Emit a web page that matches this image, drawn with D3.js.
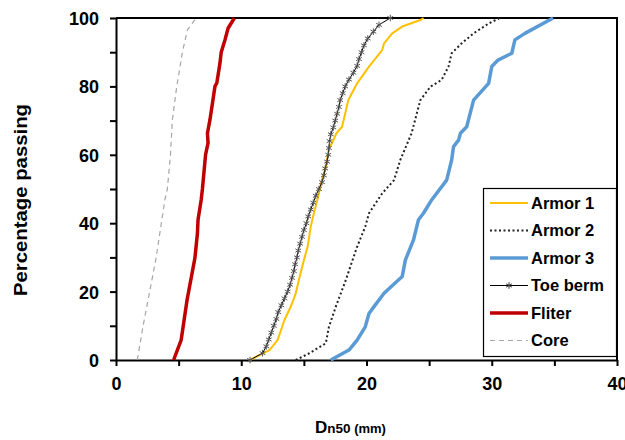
<!DOCTYPE html>
<html>
<head>
<meta charset="utf-8">
<script src="https://cdn.jsdelivr.net/npm/d3@7"></script>
<style>
  body { margin: 0; background: #fff; }
  text { font-family: "Liberation Sans", Arial, sans-serif; font-weight: bold; }
</style>
</head>
<body>
<svg id="chart"></svg>
<script>
// Grain size curves: [Dn50 (mm), percentage passing]
const armor1 = [[10.7,0],[12.25,2.9],[12.9,5.8],[13.45,11.7],[14.0,16],[14.35,19.5],[14.6,23.4],[15.0,29.2],[15.3,33.1],[15.55,39],[15.8,42.9],[16.2,48.7],[16.4,52],[16.75,56.5],[17.0,62],[17.25,63.4],[17.6,66.3],[18.05,68.2],[18.55,76],[19.25,80.9],[20.2,85.8],[21.25,90.6],[21.4,92.6],[22.05,95.5],[22.85,97.5],[24.3,99.4],[24.55,100]];
const armor2 = [[14.35,0],[15.4,1.9],[16.75,4.9],[17.0,9.7],[17.55,15.6],[18.35,23.4],[19.25,33.1],[19.9,39],[20.2,42.9],[21.25,48.7],[22.2,52.6],[22.7,58.5],[23.6,66.3],[24.3,76],[25.1,79.9],[26.0,81.9],[26.55,85.8],[26.8,89.7],[27.6,92.6],[28.55,95.5],[29.75,98.4],[30.65,100]];
const armor3 = [[17.15,0],[18.6,2.9],[19.25,5.8],[19.9,9.7],[20.2,13.6],[20.6,15.6],[21.4,19.5],[22.85,24.4],[23.1,29.2],[23.75,35.1],[24.15,41],[24.55,42.9],[25.2,46.8],[26.4,52.6],[26.8,58.5],[26.95,62.4],[27.35,64.3],[27.5,66.3],[28.0,68.2],[28.55,76],[29.75,80.9],[30.0,85.8],[30.5,87.7],[31.6,89.7],[31.85,93.6],[32.65,95.5],[34.9,100]];
const toeBerm = [[10.7,0],[11.7,2],[12.0,4],[12.2,6],[12.4,8],[12.6,10],[12.8,12],[12.95,14],[13.2,16],[13.45,18],[13.7,20],[13.9,22],[14.05,24],[14.2,26],[14.3,28],[14.45,30],[14.55,32],[14.7,34],[14.85,36],[15.0,38],[15.2,40],[15.35,42],[15.55,44],[15.75,46],[15.95,48],[16.2,50],[16.45,52],[16.6,54],[16.7,56],[16.85,58],[16.95,60],[17.0,62],[17.05,64],[17.15,66],[17.35,68],[17.5,70],[17.65,72],[17.8,74],[17.9,76],[18.1,78],[18.3,80],[18.6,82],[18.95,84],[19.25,86],[19.4,88],[19.6,90],[19.8,92],[20.1,94],[20.55,96],[21.0,98],[21.9,100]];
const filter = [[4.6,0],[5.2,5.8],[5.67,17.5],[6.3,29.8],[6.5,37],[6.55,41],[6.8,46.8],[6.9,50],[7.15,60],[7.35,63.5],[7.3,66.3],[7.5,70.2],[7.9,80],[8.05,81],[8.3,86.8],[8.4,90],[8.7,93.6],[8.95,97],[9.45,100]];
const core = [[1.7,0],[2.15,9.7],[3.2,29.8],[3.9,46.8],[4.1,50],[4.35,60],[4.5,70.2],[4.85,80],[5.3,90],[5.7,96.5],[6.4,100]];

const seriesNames = ["Armor 1", "Armor 2", "Armor 3", "Toe berm", "Fliter", "Core"];
const xTicks = [0, 5, 10, 15, 20, 25, 30, 35, 40];
const yTicks = [0, 10, 20, 30, 40, 50, 60, 70, 80, 90, 100];

const width = 625, height = 440;
const mLeft = 116, mRight = 617, mTop = 18, mBottom = 360;

const series = [
  { name: seriesNames[0], data: armor1, color: "#FFC000", w: 2, dash: null },
  { name: seriesNames[1], data: armor2, color: "#222", w: 2, dash: "2,2.5" },
  { name: seriesNames[2], data: armor3, color: "#5B9BD5", w: 3.5, dash: null },
  { name: seriesNames[3], data: toeBerm, color: "#000", w: 1, dash: null, marker: true },
  { name: seriesNames[4], data: filter, color: "#C00000", w: 3.5, dash: null },
  { name: seriesNames[5], data: core, color: "#A6A6A6", w: 1.2, dash: "5,4" }
];

const svg = d3.select("#chart").attr("width", width).attr("height", height);

const x = d3.scaleLinear().domain([0, 40]).range([mLeft, mRight]);
const y = d3.scaleLinear().domain([0, 100]).range([mBottom, mTop]);

// Frame (top and right)
svg.append("path")
  .attr("d", `M${mLeft},${mTop}H${mRight}V${mBottom}`)
  .attr("fill", "none").attr("stroke", "#000").attr("stroke-width", 2);

// Axes
const xAxis = svg.append("g")
  .attr("transform", `translate(0,${mBottom})`)
  .call(d3.axisBottom(x).tickValues(xTicks).tickSize(6).tickSizeOuter(0)
    .tickFormat(d => d % 10 === 0 ? d : ""));
const yAxis = svg.append("g")
  .attr("transform", `translate(${mLeft},0)`)
  .call(d3.axisLeft(y).tickValues(yTicks).tickSize(6).tickSizeOuter(0)
    .tickFormat(d => d % 20 === 0 ? d : ""));

[xAxis, yAxis].forEach(g => {
  g.select(".domain").attr("stroke-width", 2);
  g.selectAll(".tick line").attr("stroke-width", 2);
  g.selectAll(".tick text").attr("font-size", 18).attr("fill", "#000")
    .style("font-family", "'Liberation Sans', Arial, sans-serif").style("font-weight", "bold");
});
xAxis.selectAll(".tick text").attr("dy", 0).attr("y", 30);
yAxis.selectAll(".tick text").attr("x", -17).attr("dy", "0.36em");

// Lines
const line = d3.line().x(d => x(d[0])).y(d => y(d[1]));
const plot = svg.append("g");
series.forEach(s => {
  plot.append("path")
    .datum(s.data)
    .attr("d", line)
    .attr("fill", "none")
    .attr("stroke", s.color)
    .attr("stroke-width", s.w)
    .attr("stroke-dasharray", s.dash)
    .attr("stroke-linejoin", "round");
  if (s.marker) {
    plot.selectAll(null)
      .data(s.data)
      .enter()
      .append("path")
      .attr("transform", d => `translate(${x(d[0])},${y(d[1])})`)
      .attr("d", d3.symbol(d3.symbolAsterisk, 30))
      .attr("fill", "none")
      .attr("stroke", "#555")
      .attr("stroke-width", 1);
  }
});

// Legend
const legend = svg.append("g");
legend.append("rect")
  .attr("x", 483.5).attr("y", 188.5).attr("width", 133).attr("height", 168)
  .attr("fill", "#fff").attr("stroke", "#000").attr("stroke-width", 1.2);
series.forEach((s, i) => {
  const ly = 203 + i * 27.5;
  legend.append("line")
    .attr("x1", 490).attr("x2", 528).attr("y1", ly).attr("y2", ly)
    .attr("stroke", s.color).attr("stroke-width", s.w)
    .attr("stroke-dasharray", s.dash);
  if (s.marker) {
    legend.append("path")
      .attr("transform", `translate(509,${ly})`)
      .attr("d", d3.symbol(d3.symbolAsterisk, 30))
      .attr("fill", "none").attr("stroke", "#333");
  }
  legend.append("text")
    .attr("x", 531).attr("y", ly).attr("dy", "0.36em")
    .attr("font-size", 16.5).attr("fill", "#000")
    .text(s.name);
});

// Axis titles
svg.append("text")
  .attr("transform", "rotate(-90)")
  .attr("x", -200).attr("y", 27)
  .attr("text-anchor", "middle")
  .attr("font-size", 17.5)
  .attr("textLength", 192)
  .attr("lengthAdjust", "spacingAndGlyphs")
  .text("Percentage passing");

const xt = svg.append("text").attr("x", 315).attr("y", 433);
xt.append("tspan").attr("font-size", 17).text("D");
xt.append("tspan").attr("font-size", 13.5).text("n50");
xt.append("tspan").attr("font-size", 13).text(" (mm)");
</script>
</body>
</html>
